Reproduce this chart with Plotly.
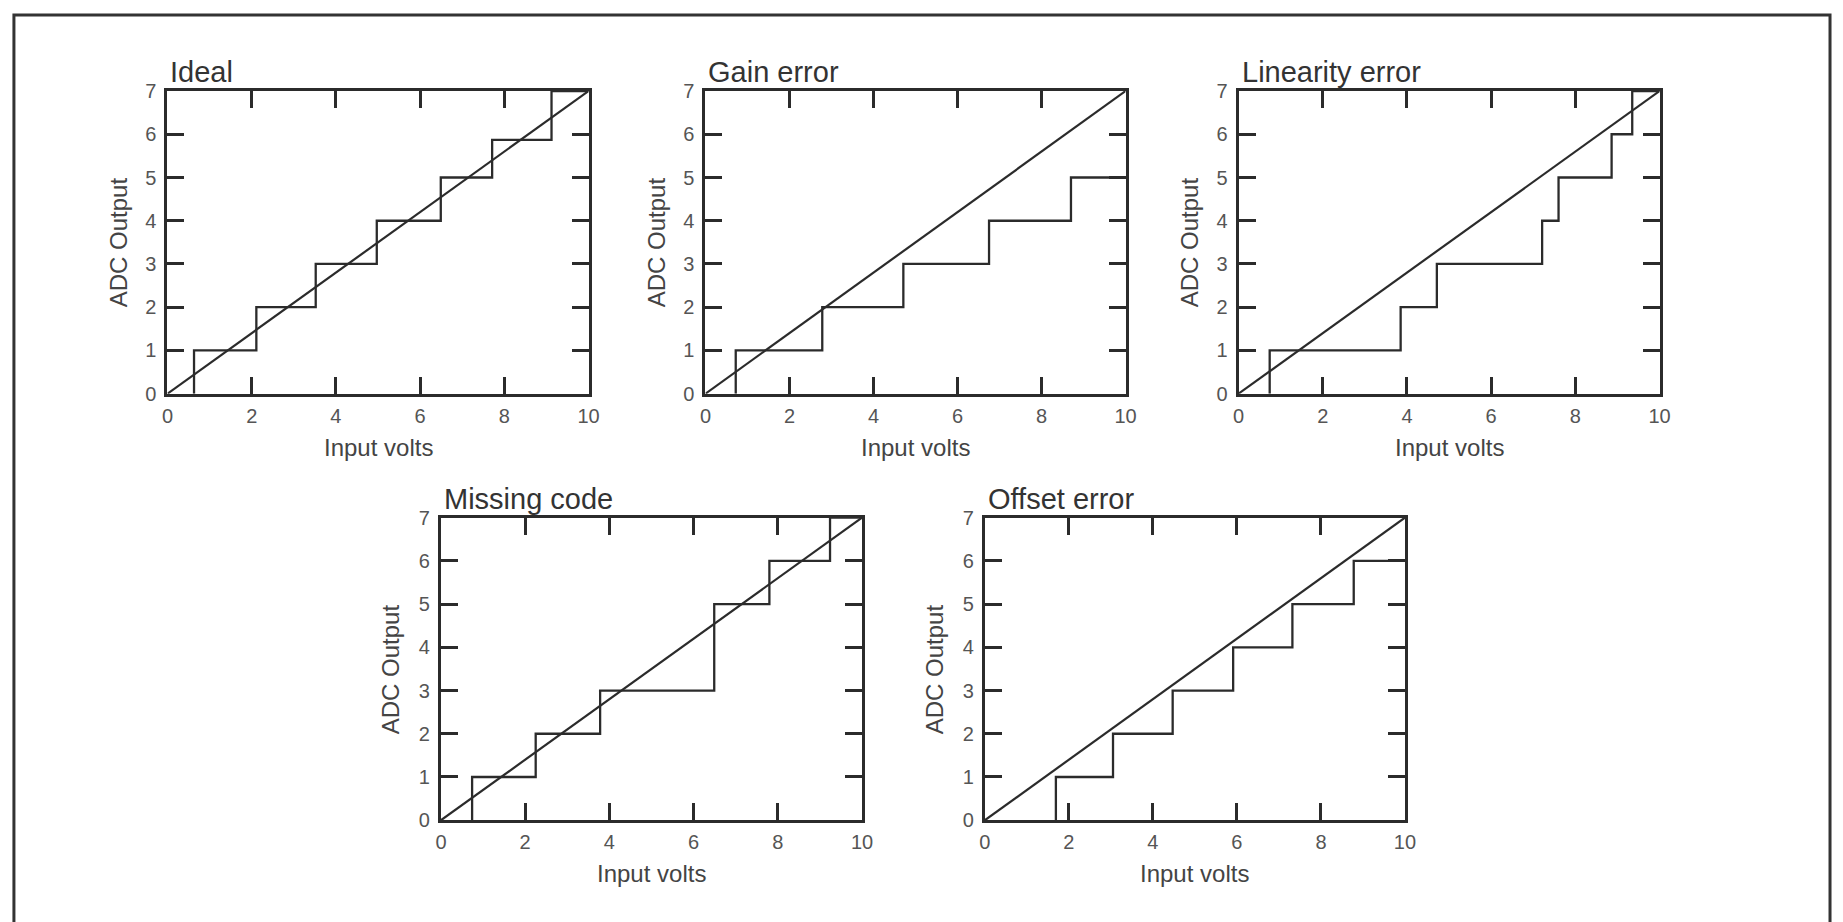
import plotly.graph_objects as go

# ---- data ----
panel_titles = ["Ideal", "Gain error", "Linearity error", "Missing code", "Offset error"]

ideal_x = [0.63, 2.11, 3.52, 4.97, 6.49, 7.71, 9.12, 10]
ideal_y = [0, 1, 2, 3, 4, 5, 5.87, 7]

gain_x = [0.72, 2.78, 4.71, 6.75, 8.70, 10]
gain_y = [0, 1, 2, 3, 4, 5]

lin_x = [0.74, 3.85, 4.71, 7.21, 7.60, 8.86, 9.35, 10]
lin_y = [0, 1, 2, 3, 4, 5, 6, 7]

miss_x = [0.74, 2.25, 3.78, 6.49, 7.80, 9.24, 10]
miss_y = [0, 1, 2, 3, 5, 6, 7]

off_x = [1.69, 3.05, 4.47, 5.91, 7.32, 8.78, 10]
off_y = [0, 1, 2, 3, 4, 5, 6]

ref_x = [0, 10]
ref_y = [0, 7]

x_ticks = [0, 2, 4, 6, 8, 10]
y_ticks = [0, 1, 2, 3, 4, 5, 6, 7]

steps = [(ideal_x, ideal_y), (gain_x, gain_y), (lin_x, lin_y), (miss_x, miss_y), (off_x, off_y)]

# ---- layout (pixel boxes of plot areas) ----
W, H = 1843, 922
boxes = [
    (163, 82, 588, 392),
    (706, 82, 1130, 392),
    (1244, 82, 1669, 392),
    (439, 519, 864, 829),
    (988, 519, 1412, 829),
]

FONT = "Liberation Sans, Arial, Helvetica, sans-serif"
LINE = "#2b2b2b"

fig = go.Figure()
layout = dict(
    width=W, height=H,
    margin=dict(l=0, r=0, t=0, b=0),
    paper_bgcolor="white", plot_bgcolor="white",
    showlegend=False,
    font=dict(family=FONT, color="#444"),
)
annotations = []
for i, ((sx, sy), (x0, y0, x1, y1)) in enumerate(zip(steps, boxes)):
    n = "" if i == 0 else str(i + 1)
    xa, ya = "x" + n, "y" + n
    fig.add_trace(go.Scatter(x=sx, y=sy, mode="lines", line=dict(color=LINE, width=2.3, shape="vh"),
                             xaxis=xa, yaxis=ya, hoverinfo="skip"))
    fig.add_trace(go.Scatter(x=ref_x, y=ref_y, mode="lines", line=dict(color=LINE, width=2.2),
                             xaxis=xa, yaxis=ya, hoverinfo="skip"))
    common = dict(showline=True, linecolor=LINE, linewidth=3, mirror="ticks",
                  ticks="inside", ticklen=17, tickwidth=3, tickcolor=LINE,
                  showgrid=False, zeroline=False, fixedrange=True,
                  tickfont=dict(family=FONT, size=20, color="#555"))
    layout["xaxis" + n] = dict(common, domain=[x0 / W, x1 / W], range=[0, 10],
                               tickvals=x_ticks, anchor=ya, ticklabelstandoff=2)
    layout["yaxis" + n] = dict(common, domain=[1 - y1 / H, 1 - y0 / H], range=[0, 7],
                               tickvals=y_ticks, anchor=xa, ticklabelstandoff=4)
    # panel title
    annotations.append(dict(text=panel_titles[i], xref="paper", yref="paper",
                            x=(x0 + 1) / W, y=1 - (y0 - 1) / H, xanchor="left", yanchor="bottom",
                            showarrow=False, font=dict(family=FONT, size=29, color="#333")))
    # x axis title
    annotations.append(dict(text="Input volts", xref="paper", yref="paper",
                            x=((x0 + x1) / 2) / W, y=1 - (y1 + 55) / H, xanchor="center", yanchor="middle",
                            showarrow=False, font=dict(family=FONT, size=24, color="#444")))
    # y axis title
    annotations.append(dict(text="ADC Output", xref="paper", yref="paper", textangle=-90,
                            x=(x0 - 50) / W, y=1 - ((y0 + y1) / 2) / H, xanchor="center", yanchor="middle",
                            showarrow=False, font=dict(family=FONT, size=24, color="#444")))

layout["annotations"] = annotations
layout["shapes"] = [dict(type="rect", xref="paper", yref="paper",
                         x0=8 / W, x1=1841 / W, y0=-0.02, y1=1 - 4 / H,
                         line=dict(color="#333", width=3), fillcolor="rgba(0,0,0,0)", layer="below")]
fig.update_layout(**layout)
fig.write_html("out.html", config={"displayModeBar": False},
               post_script="document.body.style.margin='0px'; document.body.style.overflow='hidden';")
